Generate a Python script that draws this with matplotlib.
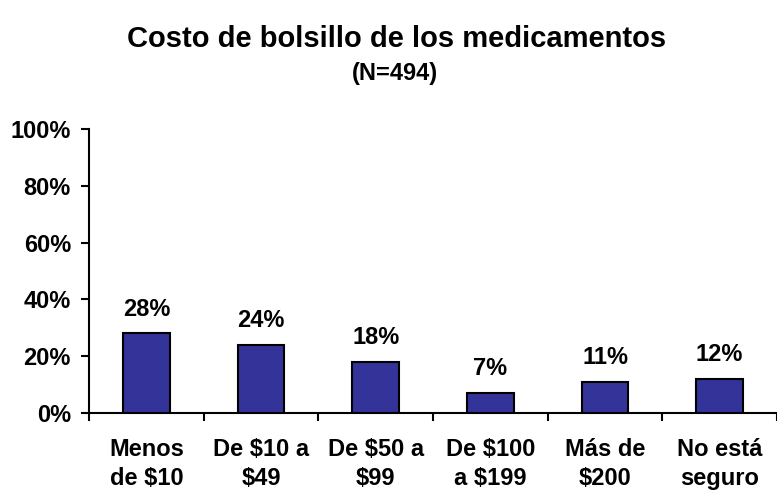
import matplotlib
matplotlib.use("Agg")
import matplotlib.pyplot as plt
import matplotlib.transforms as mtransforms

categories = ["Menos\nde $10", "De $10 a\n$49", "De $50 a\n$99", "De $100\na $199", "Más de\n$200", "No está\nseguro"]
values = [28, 24, 18, 7, 11, 12]
yticks = [0, 20, 40, 60, 80, 100]
ytick_labels = ["0%", "20%", "40%", "60%", "80%", "100%"]
title = "Costo de bolsillo de los medicamentos"
subtitle = "(N=494)"

plt.rcParams['font.family'] = ['Liberation Sans', 'DejaVu Sans']
plt.rcParams['font.weight'] = 'bold'

W, H = 777, 492
fig = plt.figure(figsize=(W/100, H/100), dpi=100)
left, right, top, bottom = 89, 777, 129, 413
ax = fig.add_axes([left/W, 1-bottom/H, (right-left)/W, (bottom-top)/H])

x = list(range(len(categories)))
ax.bar(x, values, width=0.405, color="#333399", edgecolor="black", linewidth=1.5, zorder=3)

ax.set_ylim(0, 100)
ax.set_xlim(-0.5, -0.5 + (right-left)/116.0)

ax.set_yticks(yticks)
ax.set_yticklabels(ytick_labels, fontsize=17, fontweight='bold')
ax.tick_params(axis='y', length=6, width=1.5, pad=7, direction='out')

bounds = [i - 0.5 for i in range(len(categories) + 1)]
ax.set_xticks(bounds)
ax.set_xticklabels([])
ax.tick_params(axis='x', length=6, width=1.5, direction='out')

for s in ['top', 'right']:
    ax.spines[s].set_visible(False)
for s in ['left', 'bottom']:
    ax.spines[s].set_linewidth(1.5)

trans = mtransforms.blended_transform_factory(ax.transData, ax.transAxes)
for xi, lab in zip(x, categories):
    ax.text(xi, -51/284, lab, transform=trans, ha='center', va='center',
            fontsize=17, fontweight='bold', linespacing=1.28, clip_on=False)

for xi, v in zip(x, values):
    ax.annotate(f"{v}%", (xi, v), xytext=(0, 17.6), textcoords='offset points',
                ha='center', va='center', fontsize=17, fontweight='bold')

fig.text(397/W, 1-47/H, title, ha='center', va='baseline', fontsize=21, fontweight='bold')
fig.text(395/W, 1-80/H, subtitle, ha='center', va='baseline', fontsize=17, fontweight='bold')

fig.savefig("out.png", dpi=100)
